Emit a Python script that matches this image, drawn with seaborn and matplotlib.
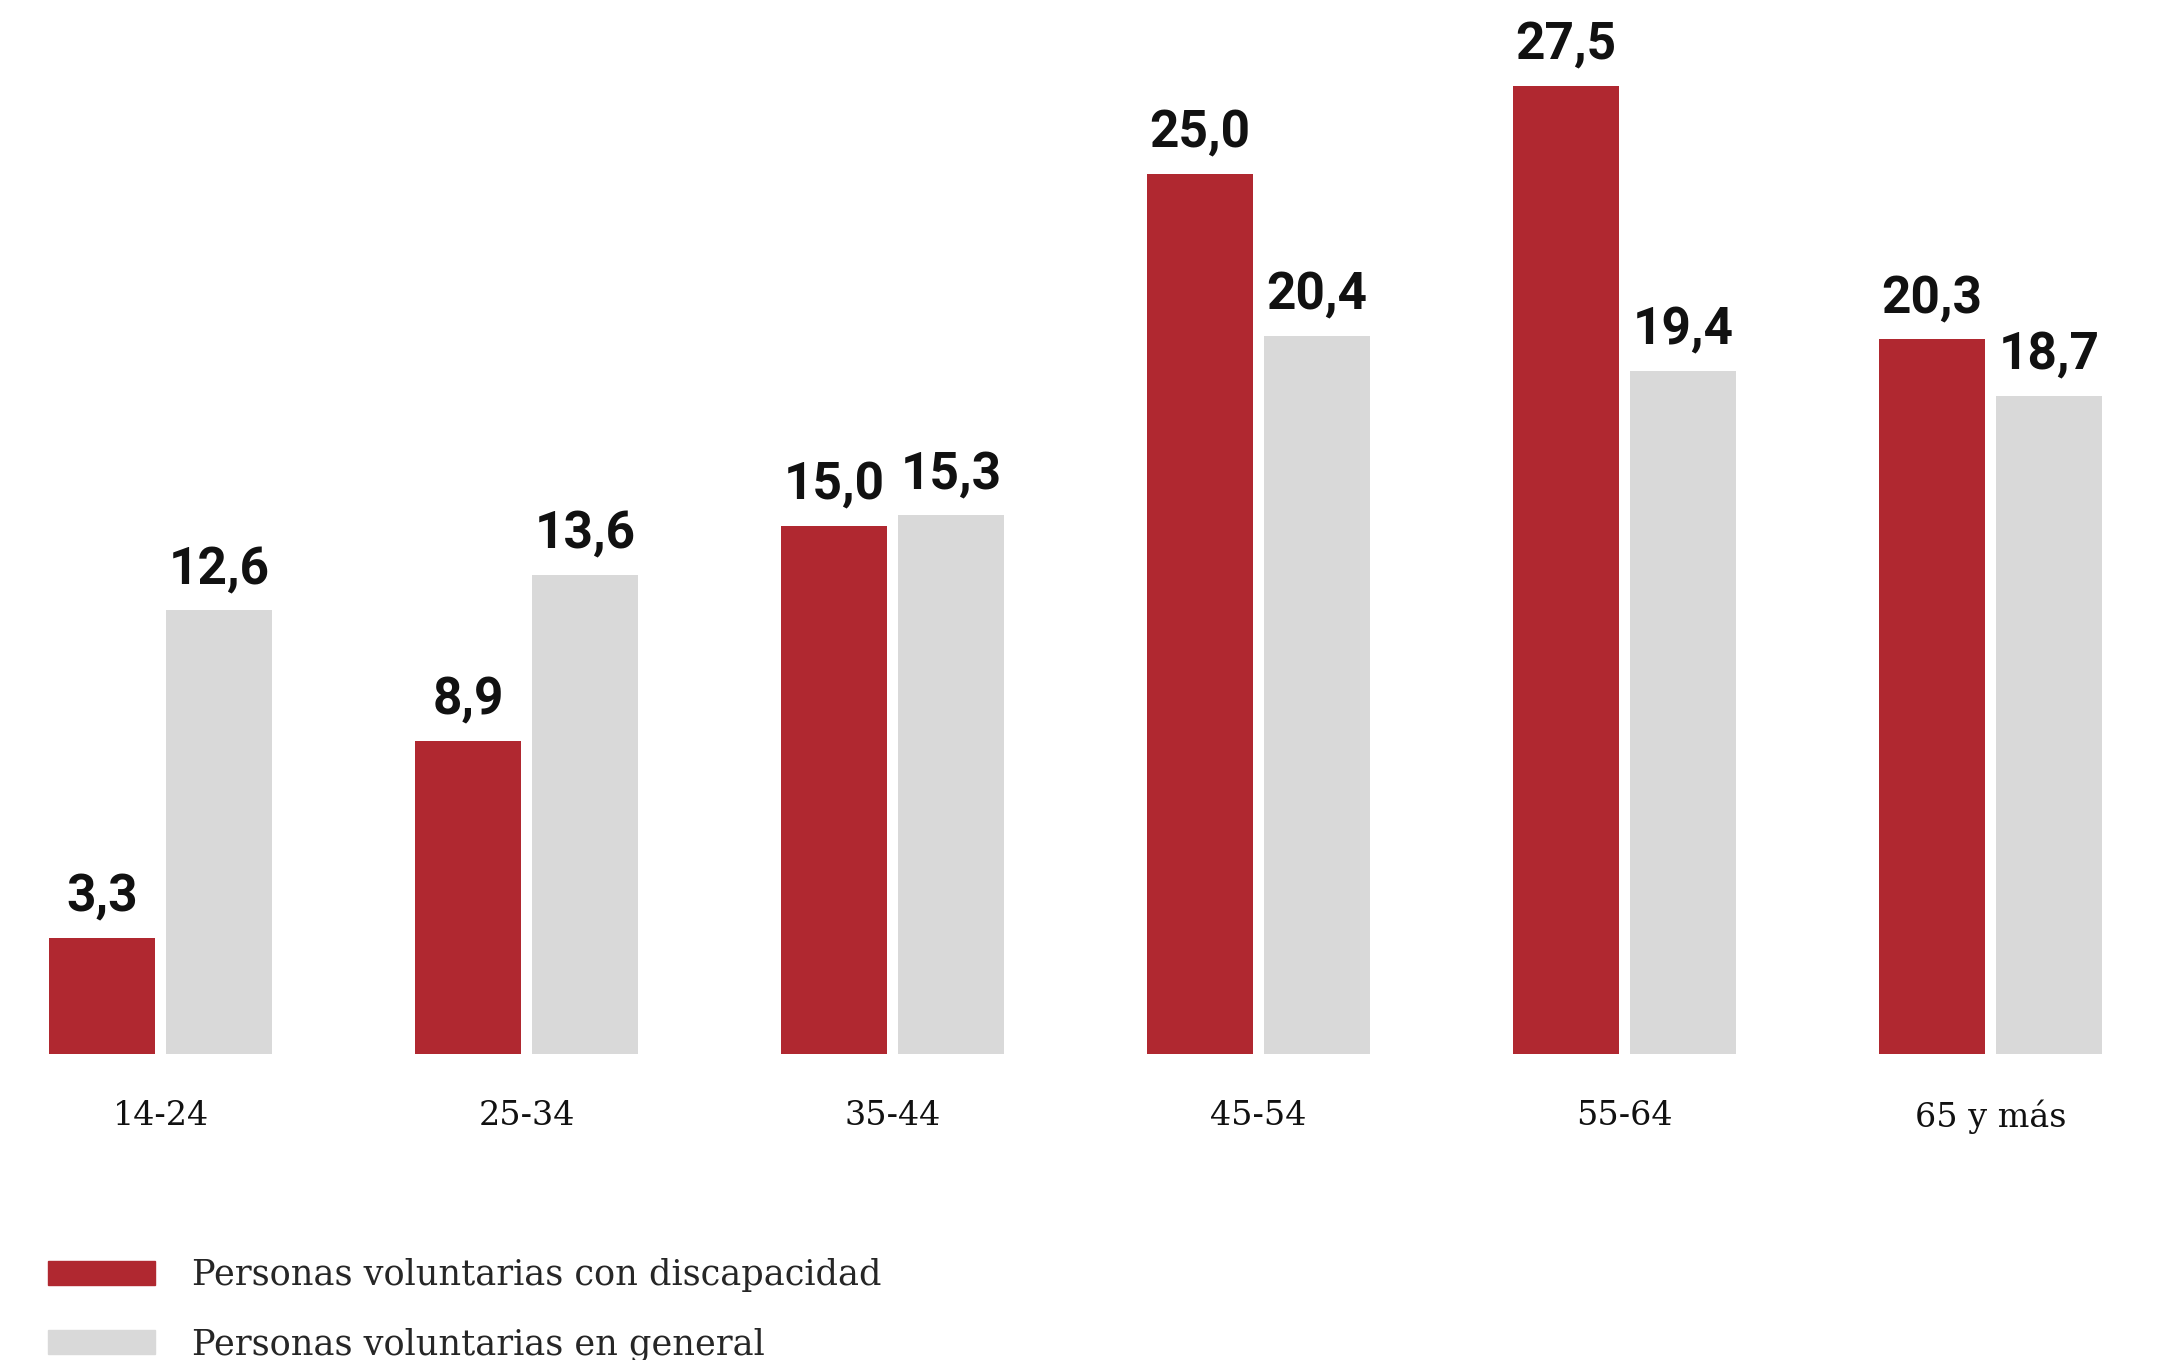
import matplotlib
matplotlib.use("Agg")
import matplotlib.pyplot as plt
import seaborn as sns
import pandas as pd

# Data
age_groups = ["14-24", "25-34", "35-44", "45-54", "55-64", "65 y más"]
series_names = ["Personas voluntarias con discapacidad", "Personas voluntarias en general"]
con_discapacidad = [3.3, 8.9, 15.0, 25.0, 27.5, 20.3]
en_general = [12.6, 13.6, 15.3, 20.4, 19.4, 18.7]

colors = ["#B02830", "#D9D9D9"]

df = pd.DataFrame({
    "edad": age_groups * 2,
    "serie": [series_names[0]] * len(age_groups) + [series_names[1]] * len(age_groups),
    "valor": con_discapacidad + en_general,
})

sns.set_style("white")
value_font = "Roboto"
text_font = ["DejaVu Serif", "DejaVu Sans"]

fig = plt.figure(figsize=(21.66, 13.6), dpi=100)
ax = fig.add_axes([0, 0.225, 1, 0.775])

sns.barplot(data=df, x="edad", y="valor", hue="serie", order=age_groups,
            hue_order=series_names, palette=colors, width=0.64, gap=0.094,
            saturation=1, edgecolor="none", linewidth=0, ax=ax)

ax.set_xlim(-0.4385, 5.479)
ax.set_ylim(0, 29.94)
ax.set_xlabel("")
ax.set_ylabel("")
ax.set_yticks([])
sns.despine(ax=ax, left=True, bottom=True)
ax.tick_params(axis="x", length=0, pad=33)
ax.set_xticks(range(len(age_groups)))
ax.set_xticklabels(age_groups, family=text_font, fontsize=24, color="#111111")

# value labels above each bar
for container in ax.containers:
    for bar in container:
        h = bar.get_height()
        ax.annotate(f"{h:.1f}".replace(".", ","),
                    xy=(bar.get_x() + bar.get_width() / 2, h),
                    xytext=(0, 19), textcoords="offset points",
                    ha="center", va="baseline", fontsize=37,
                    fontweight="semibold", family=value_font, color="#111111")

# legend at the bottom left
ax.get_legend().remove()
handles = [plt.Rectangle((0, 0), 1, 1, color=c) for c in colors]
fig.legend(handles, series_names, loc="upper left",
           bbox_to_anchor=(48 / 2166, 1 - 1258 / 1360), frameon=False,
           prop={"family": text_font, "size": 25.3},
           handlelength=3.05, handleheight=0.68, handletextpad=1.05,
           labelspacing=1.0, borderpad=0, borderaxespad=0)

fig.savefig("out.png", dpi=100)
